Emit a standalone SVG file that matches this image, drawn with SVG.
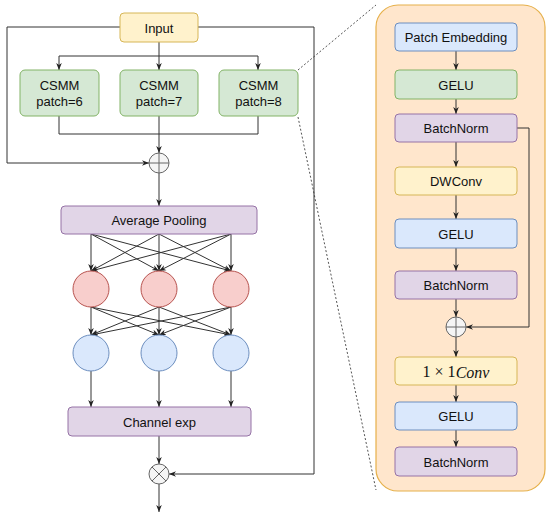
<svg xmlns="http://www.w3.org/2000/svg" width="550" height="518" viewBox="0 0 550 518">
<defs>
<marker id="arr" viewBox="0 0 10 10" refX="10" refY="5" markerWidth="7" markerHeight="7" orient="auto" markerUnits="userSpaceOnUse">
<path d="M0,1 L10,5 L0,9 L3,5 z" fill="#222"/>
</marker>
<style>
text{font-family:"Liberation Sans",Arial,sans-serif;font-size:13px;fill:#111;text-anchor:middle;dominant-baseline:central}
.ln{fill:none;stroke:#333;stroke-width:1}
.ar{fill:none;stroke:#333;stroke-width:1;marker-end:url(#arr)}
.dot{fill:none;stroke:#555;stroke-width:1;stroke-dasharray:2 2}
.yel{fill:#fff2cc;stroke:#d6b656}
.grn{fill:#d5e8d4;stroke:#82b366}
.pur{fill:#e1d5e7;stroke:#9673a6}
.blu{fill:#dae8fc;stroke:#6c8ebf}
.red{fill:#f8cecc;stroke:#b85450}
.op{fill:#f5f5f5;stroke:#666}
</style>
</defs>
<g id="container"><rect x="376" y="5" width="169" height="486" rx="22" fill="#ffe6cc" stroke="#e6b04a" stroke-width="1.2"/></g>
<g id="connectors">
<path class="dot" d="M298,70 L376,5"/>
<path class="dot" d="M298,117 L376,490"/>
<path class="ar" d="M120,27 H7 V163 H149"/>
<path class="ar" d="M198,27 H314 V474 H169"/>
<path class="ln" d="M159,42 V56"/>
<path class="ar" d="M59,56 V70"/>
<path class="ar" d="M59,56 H258 V70"/>
<path class="ar" d="M159,56 V70"/>
<path class="ln" d="M59,116 V134 H258 V116"/>
<path class="ar" d="M159,116 V153"/>
<path class="ar" d="M159,173 V206"/>
<path class="ar" d="M91,234 L91,271"/>
<path class="ar" d="M91,234 L159,271"/>
<path class="ar" d="M91,234 L231,271"/>
<path class="ar" d="M159,234 L91,271"/>
<path class="ar" d="M159,234 L159,271"/>
<path class="ar" d="M159,234 L231,271"/>
<path class="ar" d="M231,234 L91,271"/>
<path class="ar" d="M231,234 L159,271"/>
<path class="ar" d="M231,234 L231,271"/>
<path class="ar" d="M91,307 L91,335"/>
<path class="ar" d="M91,307 L159,335"/>
<path class="ar" d="M91,307 L231,335"/>
<path class="ar" d="M159,307 L91,335"/>
<path class="ar" d="M159,307 L159,335"/>
<path class="ar" d="M159,307 L231,335"/>
<path class="ar" d="M231,307 L91,335"/>
<path class="ar" d="M231,307 L159,335"/>
<path class="ar" d="M231,307 L231,335"/>
<path class="ar" d="M91,371 V407"/>
<path class="ar" d="M159,371 V407"/>
<path class="ar" d="M231,371 V407"/>
<path class="ar" d="M159,436 V464"/>
<path class="ar" d="M159,484 V512"/>
<path class="ar" d="M456,51 V70"/>
<path class="ar" d="M456,99 V114"/>
<path class="ar" d="M456,142 V167"/>
<path class="ar" d="M456,195 V219"/>
<path class="ar" d="M456,248 V271"/>
<path class="ar" d="M456,299 V317"/>
<path class="ar" d="M517,128 H529 V327 H466"/>
<path class="ar" d="M456,337 V357"/>
<path class="ar" d="M456,385 V402"/>
<path class="ar" d="M456,430 V447"/>
</g>
<g id="input"><rect class="yel" x="120" y="13" width="78" height="29" rx="4"/><text x="159" y="28">Input</text></g>
<g id="csmm6"><rect class="grn" x="20" y="70" width="79" height="46" rx="5"/><text x="59.5" y="85">CSMM</text><text x="59.5" y="101">patch=6</text></g>
<g id="csmm7"><rect class="grn" x="120" y="70" width="78" height="46" rx="5"/><text x="159" y="85">CSMM</text><text x="159" y="101">patch=7</text></g>
<g id="csmm8"><rect class="grn" x="219" y="70" width="79" height="46" rx="5"/><text x="258.5" y="85">CSMM</text><text x="258.5" y="101">patch=8</text></g>
<g id="plus1"><circle class="op" cx="159" cy="163" r="10"/><path d="M149,163 H169 M159,153 V173" stroke="#666" fill="none"/></g>
<g id="avgpool"><rect class="pur" x="61" y="206" width="196" height="28" rx="4"/><text x="159" y="220.5">Average Pooling</text></g>
<g id="r1"><circle class="red" cx="91" cy="289" r="18"/></g>
<g id="r2"><circle class="red" cx="159" cy="289" r="18"/></g>
<g id="r3"><circle class="red" cx="231" cy="289" r="18"/></g>
<g id="b1"><circle class="blu" cx="91" cy="353" r="18"/></g>
<g id="b2"><circle class="blu" cx="159" cy="353" r="18"/></g>
<g id="b3"><circle class="blu" cx="231" cy="353" r="18"/></g>
<g id="chexp"><rect class="pur" x="68" y="407" width="183" height="29" rx="4"/><text x="159.5" y="422">Channel exp</text></g>
<g id="times"><circle class="op" cx="159" cy="474" r="10"/><path d="M152,467 L166,481 M166,467 L152,481" stroke="#666" fill="none"/></g>
<g id="pe"><rect class="blu" x="395" y="23" width="122" height="28" rx="4"/><text x="456" y="37.5">Patch Embedding</text></g>
<g id="gelu1"><rect class="grn" x="395" y="70" width="122" height="29" rx="4"/><text x="456" y="85">GELU</text></g>
<g id="bn1"><rect class="pur" x="395" y="114" width="122" height="28" rx="4"/><text x="456" y="128.5">BatchNorm</text></g>
<g id="dwconv"><rect class="yel" x="395" y="167" width="122" height="28" rx="4"/><text x="456" y="181.5">DWConv</text></g>
<g id="gelu2"><rect class="blu" x="395" y="219" width="122" height="29" rx="4"/><text x="456" y="234">GELU</text></g>
<g id="bn2"><rect class="pur" x="395" y="271" width="122" height="28" rx="4"/><text x="456" y="285.5">BatchNorm</text></g>
<g id="plus2"><circle class="op" cx="456" cy="327" r="10"/><path d="M446,327 H466 M456,317 V337" stroke="#666" fill="none"/></g>
<g id="conv11"><rect class="yel" x="395" y="357" width="122" height="28" rx="4"/><text x="456" y="371.5" style="font-family:'Liberation Serif','Times New Roman',serif;font-size:16px">1 × 1<tspan font-style="italic">Conv</tspan></text></g>
<g id="gelu3"><rect class="blu" x="395" y="402" width="122" height="28" rx="4"/><text x="456" y="416.5">GELU</text></g>
<g id="bn3"><rect class="pur" x="395" y="447" width="122" height="29" rx="4"/><text x="456" y="462">BatchNorm</text></g>
</svg>
